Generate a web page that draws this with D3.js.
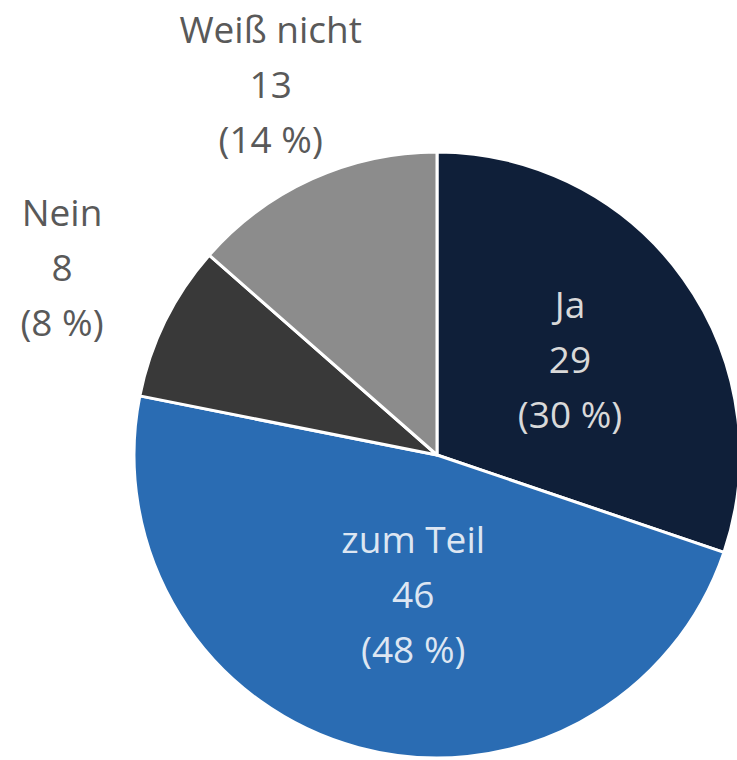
<!DOCTYPE html>
<html>
<head>
<meta charset="utf-8">
<script src="https://cdn.jsdelivr.net/npm/d3@7"></script>
<style>
  body { margin: 0; background: #fff; }
  svg { display: block; }
</style>
</head>
<body>
<div id="chart"></div>
<script>
// data
const categories = ['Ja', 'zum Teil', 'Nein', 'Weiß nicht'];
const counts = [29, 46, 8, 13];
const percents = [30, 48, 8, 14];

const colors = ['#0f1f39', '#2a6cb3', '#393939', '#8c8c8c'];
const textColors = ['#d9d9d9', '#dde6f2', '#595959', '#595959'];
// label placement: radius factor (of pie radius) and small nudge
const labelPlace = [
  { k: 0.54, dx: 0, dy: 0 },
  { k: 0.52, dx: 17, dy: -12 },
  { k: 1.38, dx: 0, dy: -2 },
  { k: 1.33, dx: 0, dy: -3 },
];

const width = 737;
const height = 760;
const cx = 437;
const cy = 455;
const radius = 303;
const lineH = 55;

const svg = d3.select('#chart').append('svg')
  .attr('width', width)
  .attr('height', height);

const g = svg.append('g')
  .attr('transform', `translate(${cx},${cy})`);

const data = categories.map((c, i) => ({
  name: c, value: counts[i], pct: percents[i], i,
}));

const pie = d3.pie()
  .value((d) => d.value)
  .sort(null);

const arcs = pie(data);

const arc = d3.arc()
  .innerRadius(0)
  .outerRadius(radius);

g.selectAll('path.slice')
  .data(arcs)
  .enter()
  .append('path')
  .attr('class', 'slice')
  .attr('d', arc)
  .attr('fill', (d) => colors[d.data.i])
  .attr('stroke', '#fff')
  .attr('stroke-width', 3)
  .attr('stroke-linejoin', 'round');

const labels = g.selectAll('text.lbl')
  .data(arcs)
  .enter()
  .append('text')
  .attr('class', 'lbl')
  .attr('text-anchor', 'middle')
  .attr('font-family', 'Open Sans, sans-serif')
  .attr('font-size', 37)
  .attr('fill', (d) => textColors[d.data.i])
  .attr('transform', (d) => {
    const p = labelPlace[d.data.i];
    const r = radius * p.k;
    const [x, y] = d3.arc().innerRadius(r).outerRadius(r).centroid(d);
    return `translate(${x + p.dx},${y + p.dy})`;
  });

labels.each(function (d) {
  const lines = [d.data.name, String(d.data.value), `(${d.data.pct} %)`];
  const t = d3.select(this);
  lines.forEach((s, j) => {
    t.append('tspan')
      .attr('x', 0)
      .attr('y', (j - 1) * lineH)
      .attr('dy', '0.35em')
      .text(s);
  });
});
</script>
</body>
</html>
